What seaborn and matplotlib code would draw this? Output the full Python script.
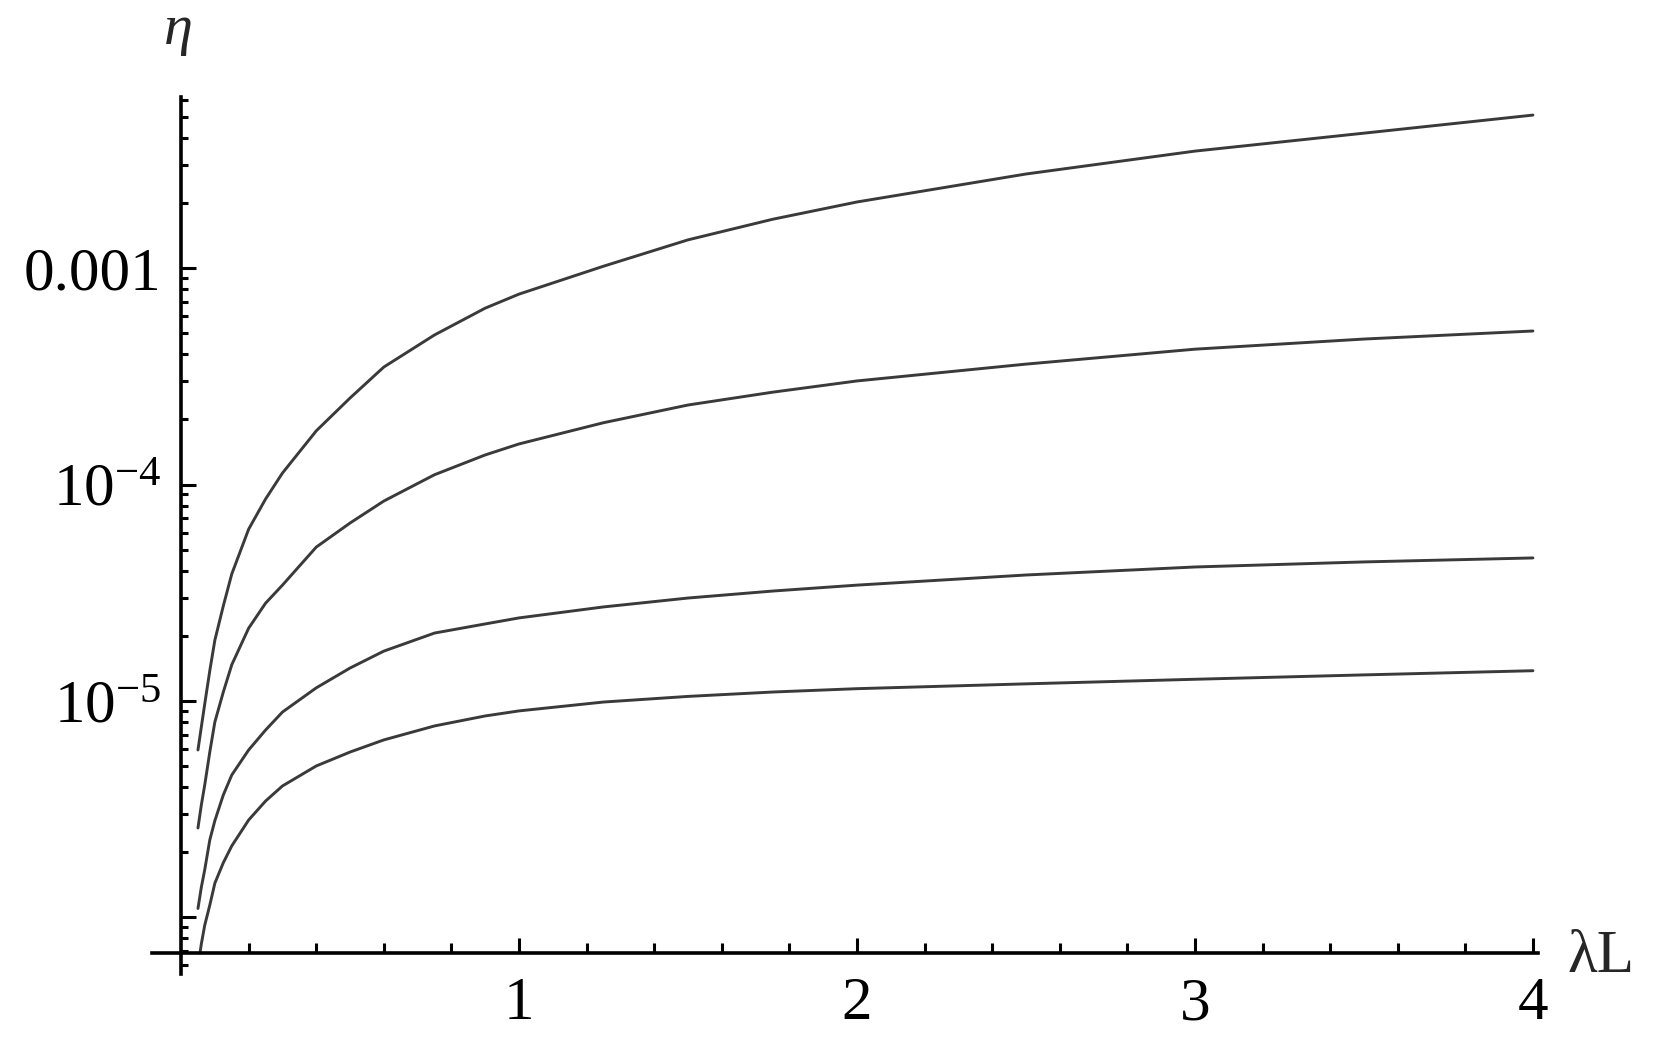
import numpy as np
import pandas as pd
import seaborn as sns
import matplotlib
matplotlib.use("Agg")
import matplotlib.pyplot as plt
from matplotlib.ticker import LogLocator, NullFormatter, FixedLocator

# values (x = lambda*L, y = eta, log scale)
lam_L = [0.05, 0.06, 0.07, 0.085, 0.1, 0.125, 0.15, 0.2, 0.25, 0.3, 0.4, 0.5, 0.6,
         0.75, 0.9, 1.0, 1.25, 1.5, 1.75, 2.0, 2.5, 3.0, 3.5, 4.0]
lam_L_4 = [0.056, 0.06, 0.07, 0.085, 0.1, 0.125, 0.15, 0.2, 0.25, 0.3, 0.4, 0.5, 0.6,
           0.75, 0.9, 1.0, 1.25, 1.5, 1.75, 2.0, 2.5, 3.0, 3.5, 4.0]

eta_1 = [5.94e-6, 7.59e-6, 9.68e-6, 1.38e-5, 1.91e-5, 2.75e-5, 3.86e-5, 6.22e-5, 8.57e-5,
         1.13e-4, 1.77e-4, 2.51e-4, 3.49e-4, 4.91e-4, 6.53e-4, 7.58e-4, 1.02e-3,
         1.35e-3, 1.68e-3, 2.02e-3, 2.72e-3, 3.47e-3, 4.20e-3, 5.09e-3]
eta_2 = [2.59e-6, 3.31e-6, 4.09e-6, 5.81e-6, 8.0e-6, 1.10e-5, 1.47e-5, 2.17e-5, 2.83e-5,
         3.43e-5, 5.14e-5, 6.64e-5, 8.39e-5, 1.11e-4, 1.37e-4, 1.54e-4, 1.93e-4,
         2.33e-4, 2.67e-4, 3.01e-4, 3.60e-4, 4.22e-4, 4.70e-4, 5.12e-4]
eta_3 = [1.1e-6, 1.38e-6, 1.66e-6, 2.28e-6, 2.8e-6, 3.68e-6, 4.55e-6, 5.94e-6, 7.34e-6,
         8.89e-6, 1.15e-5, 1.42e-5, 1.70e-5, 2.06e-5, 2.27e-5, 2.42e-5, 2.72e-5,
         2.99e-5, 3.22e-5, 3.43e-5, 3.82e-5, 4.16e-5, 4.39e-5, 4.58e-5]
eta_4 = [6.85e-7, 7.55e-7, 9.2e-7, 1.14e-6, 1.44e-6, 1.79e-6, 2.14e-6, 2.82e-6, 3.45e-6,
         4.05e-6, 5.01e-6, 5.81e-6, 6.61e-6, 7.67e-6, 8.53e-6, 9.0e-6, 9.89e-6,
         1.05e-5, 1.10e-5, 1.14e-5, 1.20e-5, 1.26e-5, 1.32e-5, 1.38e-5]

y_ticks = [1e-6, 1e-5, 1e-4, 1e-3]
y_tick_labels = ["", r"$\mathregular{10^{-5}}$", r"$\mathregular{10^{-4}}$", "0.001"]
x_ticks = [1, 2, 3, 4]
x_tick_labels = ["1", "2", "3", "4"]
x_minor = [0.2, 0.4, 0.6, 0.8, 1.2, 1.4, 1.6, 1.8, 2.2, 2.4, 2.6, 2.8,
           3.2, 3.4, 3.6, 3.8]

df = pd.concat([
    pd.DataFrame({"x": lam_L, "eta": eta_1, "curve": 1}),
    pd.DataFrame({"x": lam_L, "eta": eta_2, "curve": 2}),
    pd.DataFrame({"x": lam_L, "eta": eta_3, "curve": 3}),
    pd.DataFrame({"x": lam_L_4, "eta": eta_4, "curve": 4}),
])

sns.set_style("white")
plt.rcParams["font.family"] = ["Liberation Serif", "DejaVu Serif"]
plt.rcParams["mathtext.fontset"] = "custom"
plt.rcParams["mathtext.rm"] = "Liberation Serif"
plt.rcParams["mathtext.it"] = "Liberation Serif:italic"

W, H = 1675, 1052
fig = plt.figure(figsize=(W / 100, H / 100), dpi=100)
ax = fig.add_axes([152 / W, (H - 974) / H, (1538 - 152) / W, (974 - 97) / H])

sns.lineplot(data=df, x="x", y="eta", units="curve", estimator=None, sort=False,
             color="#3a3a3a", linewidth=2.1, ax=ax)

ax.set_yscale("log")
ax.set_xlim(-0.086, 4.015)
ax.set_ylim(5.48e-7, 6.17e-3)

ax.spines["top"].set_visible(False)
ax.spines["right"].set_visible(False)
ax.spines["left"].set_position(("data", 0))
ax.spines["bottom"].set_position(("data", 6.85e-7))
for s in ["left", "bottom"]:
    ax.spines[s].set_linewidth(2.6)
    ax.spines[s].set_color("black")

ax.set_xticks(x_ticks, labels=x_tick_labels)
ax.xaxis.set_minor_locator(FixedLocator(x_minor))
ax.set_yticks(y_ticks, labels=y_tick_labels)
ax.yaxis.set_minor_locator(LogLocator(base=10, subs=np.arange(2, 10)))
ax.yaxis.set_minor_formatter(NullFormatter())

ax.tick_params(axis="x", which="both", bottom=True, direction="in", width=2.2,
               color="black")
ax.tick_params(axis="x", which="major", length=11, labelsize=44, pad=17,
               labelcolor="black")
ax.tick_params(axis="x", which="minor", length=7.5)
ax.tick_params(axis="y", which="both", left=True, direction="in", width=2.2,
               color="black")
ax.tick_params(axis="y", which="major", length=11, labelsize=44, pad=14,
               labelcolor="black")
ax.tick_params(axis="y", which="minor", length=5)

ax.set_xlabel("")
ax.set_ylabel("")

fig.text(178 / W, (H - 44) / H, "η", fontsize=42, style="italic",
         ha="center", va="baseline")
fig.text(1567 / W, (H - 972) / H, "λL", fontsize=44, ha="left", va="baseline")

fig.savefig("out.png", dpi=100)
